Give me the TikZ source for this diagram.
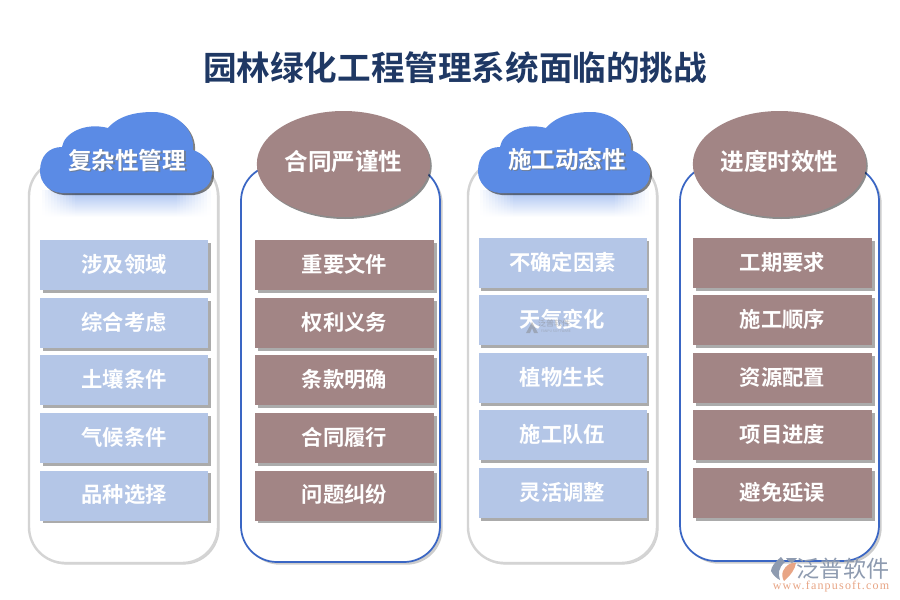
\documentclass[tikz,border=0pt]{standalone}
\usepackage{fontspec}
\setmainfont{Noto Sans CJK SC}[BoldFont={Noto Sans CJK SC Bold}]
\newfontfamily\cjkb{Noto Sans CJK SC Bold}
\newfontfamily\wmserif[LetterSpace=10]{Liberation Serif}
\usetikzlibrary{shadows,shapes.geometric,calc}
\definecolor{itemblue}{HTML}{B4C6E7}
\definecolor{itembrown}{HTML}{A28585}
\definecolor{cloudblue}{HTML}{5B8BE5}
\definecolor{panelblue}{HTML}{3A66C4}
\definecolor{panelgray}{HTML}{D4D4D4}
\definecolor{titlenavy}{HTML}{1F3864}
\definecolor{wmgray}{HTML}{8E9BB0}
\definecolor{wmorange}{HTML}{E8A585}
\newcommand{\shtxt}[1]{\rlap{\kern1.3pt\raisebox{-1.3pt}{\textcolor{titlenavy!65}{#1}}}#1}
\tikzset{
  softshadow/.style={drop shadow={shadow xshift=2pt,shadow yshift=-2pt,fill=black,opacity=.33}},
  itembox/.style={rectangle,minimum height=37.5pt,inner sep=0pt,text=white,text height=13pt,text depth=2.5pt,font=\cjkb\fontsize{16}{16}\selectfont,softshadow},
  bluebox/.style={itembox,fill=itemblue,minimum width=126pt},
  brownbox/.style={itembox,fill=itembrown,minimum width=134pt},
  panelg/.style={draw=panelgray,line width=1.8pt,fill=white,rounded corners=27pt,drop shadow={shadow xshift=1.2pt,shadow yshift=-1.2pt,fill=black,opacity=.18}},
  panelb/.style={draw=panelblue,line width=1.3pt,fill=white,rounded corners=27pt,drop shadow={shadow xshift=2pt,shadow yshift=-2pt,fill=black,opacity=.2}},
  headtext/.style={text=white,font=\cjkb\fontsize{17.7}{18}\selectfont,inner sep=0pt},
  headellipse/.style={ellipse,fill=itembrown,minimum width=130pt,minimum height=79.5pt,inner sep=0pt,text=white,text height=14pt,text depth=3.6pt,font=\cjkb\fontsize{17.7}{18}\selectfont,drop shadow={shadow xshift=1.2pt,shadow yshift=-1.5pt,fill=black,opacity=.45}},
  cloudfill/.style={fill=cloudblue,drop shadow={shadow xshift=1.5pt,shadow yshift=-1.5pt,fill=black,opacity=.5}},
}
% reflection first (columns getting paler towards both sides), then cloud; #1 = left x of cloud, in px
\newcommand{\cloudat}[1]{%
  \begin{scope}[xshift=#1*0.75pt]
    \foreach \k in {0,...,55}{%
      \pgfmathtruncatemacro{\tone}{55*min(1,min(\k+1,56-\k)/12)}%
      \pgfmathtruncatemacro{\tmid}{\tone*0.3}%
      \fill[top color=cloudblue!\tone,middle color=cloudblue!\tmid,bottom color=white]
        ({2+\k*3},190) rectangle ({2+\k*3+3.4},217);
    }
    \path[cloudfill] (0,171) .. controls (0,156) and (9,147) .. (22,147)
      .. controls (24,133) and (45,122) .. (68,128)
      .. controls (80,114) and (100,112) .. (113,112)
      .. controls (135,112) and (155,128) .. (153,150)
      .. controls (165,154) and (172,164) .. (172,172)
      .. controls (172,184) and (165,191) .. (152,193)
      -- (22,193) .. controls (8,192) and (0,182) .. (0,171) -- cycle;
  \end{scope}}
\begin{document}
\begin{tikzpicture}[x=0.75pt,y=-0.75pt]
\useasboundingbox (0,0) rectangle (900,600);
\fill[white] (0,0) rectangle (900,600);
\node[text=titlenavy,font=\cjkb\fontsize{25.2}{26}\selectfont,inner sep=0pt] (title) at (455,68) {园林绿化工程管理系统面临的挑战};

% panels
\path[panelg] (29,160) rectangle (218,563);
\path[panelb] (241,165) rectangle (440,562);
\path[panelg] (468,160) rectangle (657,563);
\path[panelb] (680,165) rectangle (879,561);

% headers
\cloudat{40}
\node[headtext] (h1) at (127,161) {\shtxt{复杂性管理}};
\node[headellipse] (h2) at (343.5,164) {合同严谨性};
\cloudat{478}
\node[headtext] (h3) at (567,160) {\shtxt{施工动态性}};
\node[headellipse] (h4) at (779.5,164) {进度时效性};

% column 1
\node[bluebox] (a1) at (124,265) {涉及领域};
\node[bluebox] (a2) at (124,323) {综合考虑};
\node[bluebox] (a3) at (124,380) {土壤条件};
\node[bluebox] (a4) at (124,438) {气候条件};
\node[bluebox] (a5) at (124,495.5) {品种选择};
% column 2
\node[brownbox] (b1) at (344.5,265) {重要文件};
\node[brownbox] (b2) at (344.5,323) {权利义务};
\node[brownbox] (b3) at (344.5,380) {条款明确};
\node[brownbox] (b4) at (344.5,438) {合同履行};
\node[brownbox] (b5) at (344.5,495.5) {问题纠纷};
% column 3
\node[bluebox] (c1) at (562.5,263) {不确定因素};
\node[bluebox] (c2) at (562.5,320) {天气变化};
\node[bluebox] (c3) at (562.5,378) {植物生长};
\node[bluebox] (c4) at (562.5,435) {施工队伍};
\node[bluebox] (c5) at (562.5,493) {灵活调整};
% column 4
\node[brownbox] (d1) at (782.5,263) {工期要求};
\node[brownbox] (d2) at (782.5,320) {施工顺序};
\node[brownbox] (d3) at (782.5,378) {资源配置};
\node[brownbox] (d4) at (782.5,435) {项目进度};
\node[brownbox] (d5) at (782.5,493) {避免延误};

% small watermark inside the box
\fill[gray,opacity=.45] (526,333) -- (532,322) -- (538,333) -- (534,333) -- (532,328) -- (530,333) -- cycle;
\node[text=gray,opacity=.5,font=\fontsize{6}{6}\selectfont,inner sep=0pt] (wm1) at (554,323) {泛普软件};
\node[text=gray,opacity=.4,font=\fontsize{2.6}{3}\selectfont,inner sep=0pt] (wm4) at (556,331) {FANPU SOFTWARE};

% bottom-right logo
\fill[wmgray] (781,557) .. controls (775,562) and (771,567) .. (771,571)
  .. controls (773,575) and (776,578) .. (780,580) .. controls (778,574) and (778,568) .. (785,562) -- cycle;
\fill[wmgray] (786,558) -- (797,558) -- (792,563) .. controls (789,561) and (787,561) .. (786,558) -- cycle;
\fill[wmorange] (783,571) .. controls (786,565) and (791,562) .. (796,563)
  .. controls (795,569) and (791,575) .. (784,581) .. controls (782,578) and (782,574) .. (783,571) -- cycle;
\node[text=wmgray,font=\fontsize{17.3}{18}\selectfont,inner sep=0pt,text height=14pt,text depth=1pt] (wm2) at (843,569) {泛普软件};
\node[text=wmorange,font=\wmserif\fontsize{9}{9}\selectfont,inner sep=0pt,text height=6pt,text depth=0pt] (wm3) at (831,585) {www.fanpusoft.com};
\end{tikzpicture}
\end{document}
